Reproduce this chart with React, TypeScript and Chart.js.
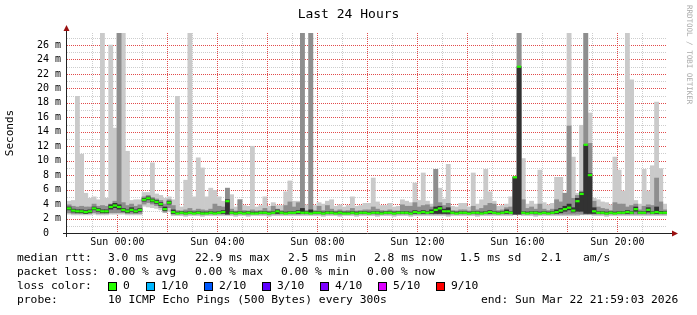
import React, { useEffect, useRef } from "react";
import { Chart, registerables } from "chart.js";

Chart.register(...registerables);

// time axis: hours relative to Sun 00:00; graph spans Sat 21:59:03 .. Sun 21:59:03
const START_HOUR = -2.0158;
const END_HOUR = 21.9842;
const STEP_HOURS = 1 / 6; // 10 minute bins

// median rtt (ms) per bin
const medianRtt = [
  3.4, 3.1, 3.0, 3.0, 2.9, 3.0, 3.4, 3.2, 3.0, 3.0, 3.6, 3.8,
  3.6, 3.2, 3.0, 3.2, 3.0, 3.2, 4.6, 4.8, 4.5, 4.3, 4.0, 3.3,
  4.2, 2.9, 2.7, 2.8, 2.7, 2.8, 2.7, 2.8, 2.7, 2.7, 2.8, 2.7,
  2.8, 2.9, 4.4, 2.8, 2.7, 2.8, 2.7, 2.8, 2.7, 2.7, 2.8, 2.8,
  2.7, 2.8, 3.0, 2.8, 2.7, 2.8, 2.8, 2.9, 2.8, 2.8, 2.7, 2.8,
  2.8, 2.7, 2.8, 2.8, 2.7, 2.8, 2.7, 2.7, 2.8, 2.7, 2.8, 2.8,
  2.7, 2.8, 2.8, 2.7, 2.8, 2.8, 2.7, 2.8, 2.8, 2.8, 2.7, 2.9,
  2.8, 2.9, 2.8, 2.9, 3.2, 3.4, 3.0, 3.0, 2.8, 2.7, 2.8, 2.8,
  2.7, 2.8, 2.8, 2.7, 2.8, 2.9, 2.8, 2.7, 2.8, 2.9, 2.8, 7.7,
  23.0, 2.8, 2.7, 2.8, 2.8, 2.7, 2.8, 2.7, 2.8, 2.9, 3.1, 3.3,
  3.5, 3.1, 4.4, 5.4, 12.2, 8.0, 3.0, 2.8, 2.8, 2.7, 2.8, 2.7,
  2.8, 2.8, 2.9, 2.8, 3.3, 2.8, 2.8, 3.2, 2.8, 2.9, 2.8, 2.8,
];

// outer smoke (min .. max ping)
const minRtt = [
  2.6, 2.5, 2.5, 2.5, 2.5, 2.5, 2.6, 2.5, 2.5, 2.5, 2.6, 2.6,
  2.6, 2.6, 2.5, 2.5, 2.5, 2.5, 3.7, 3.6, 3.5, 3.4, 3.2, 2.8,
  3.0, 2.4, 2.4, 2.4, 2.3, 2.4, 2.4, 2.4, 2.3, 2.4, 2.4, 2.4,
  2.4, 2.4, 2.4, 2.4, 2.3, 2.4, 2.4, 2.3, 2.4, 2.4, 2.4, 2.4,
  2.3, 2.4, 2.4, 2.4, 2.4, 2.4, 2.4, 2.4, 2.4, 2.4, 2.4, 2.4,
  2.4, 2.3, 2.4, 2.4, 2.4, 2.3, 2.4, 2.4, 2.4, 2.3, 2.4, 2.4,
  2.4, 2.4, 2.3, 2.4, 2.4, 2.4, 2.3, 2.4, 2.4, 2.4, 2.3, 2.4,
  2.4, 2.4, 2.4, 2.4, 2.4, 2.4, 2.4, 2.3, 2.4, 2.4, 2.4, 2.4,
  2.4, 2.4, 2.3, 2.4, 2.4, 2.4, 2.4, 2.4, 2.4, 2.4, 2.4, 2.5,
  2.5, 2.4, 2.4, 2.4, 2.3, 2.4, 2.4, 2.4, 2.4, 2.4, 2.4, 2.4,
  2.4, 2.4, 2.4, 2.5, 2.5, 2.5, 2.4, 2.4, 2.4, 2.3, 2.4, 2.4,
  2.4, 2.4, 2.4, 2.4, 2.4, 2.4, 2.4, 2.4, 2.4, 2.4, 2.4, 2.4,
];
const maxRtt = [
  4.4, 4.5, 18.9, 10.9, 5.5, 4.8, 5.0, 4.6, 28, 4.8, 26.0, 14.5,
  28, 28, 11.3, 4.5, 4.6, 4.6, 5.6, 5.6, 9.7, 5.4, 5.2, 4.8,
  5.0, 4.6, 18.9, 3.6, 7.3, 28, 5.0, 10.4, 9.0, 5.0, 6.2, 5.9,
  5.0, 4.4, 6.2, 5.3, 3.6, 4.6, 3.8, 3.7, 12.0, 3.6, 3.8, 5.0,
  3.7, 4.2, 3.8, 3.8, 5.7, 7.2, 4.4, 4.4, 28, 3.9, 28, 3.8,
  4.2, 4.0, 4.4, 4.6, 3.7, 3.9, 3.6, 3.8, 5.0, 3.7, 3.8, 4.1,
  4.1, 7.6, 4.3, 3.8, 3.8, 4.1, 3.6, 3.7, 4.6, 4.4, 4.2, 6.9,
  4.5, 8.3, 4.4, 4.0, 8.8, 6.2, 4.7, 9.5, 3.7, 3.6, 4.1, 4.1,
  3.6, 8.3, 4.0, 4.6, 8.8, 5.7, 4.4, 3.7, 3.8, 4.0, 5.0, 7.8,
  28, 10.3, 4.0, 4.4, 4.0, 8.7, 4.2, 3.9, 4.1, 7.7, 7.7, 5.5,
  28, 10.5, 5.5, 14.9, 28, 16.6, 4.8, 4.6, 4.3, 4.2, 3.9, 10.5,
  8.7, 5.8, 28, 21.2, 4.5, 4.0, 8.8, 5.8, 9.3, 18.1, 8.9, 4.0,
];

// middle smoke
const midLowRtt = [
  2.8, 2.7, 2.7, 2.7, 2.7, 2.7, 2.8, 2.7, 2.7, 2.7, 2.8, 2.8,
  2.8, 2.8, 2.7, 2.7, 2.7, 2.7, 4.0, 4.2, 4.0, 3.8, 3.5, 2.9,
  3.5, 2.6, 2.6, 2.6, 2.5, 2.6, 2.6, 2.6, 2.5, 2.6, 2.6, 2.6,
  2.6, 2.6, 2.6, 2.6, 2.5, 2.6, 2.6, 2.5, 2.6, 2.6, 2.6, 2.6,
  2.5, 2.6, 2.6, 2.6, 2.6, 2.6, 2.6, 2.6, 2.6, 2.6, 2.6, 2.6,
  2.6, 2.5, 2.6, 2.6, 2.6, 2.5, 2.6, 2.6, 2.6, 2.5, 2.6, 2.6,
  2.6, 2.6, 2.5, 2.6, 2.6, 2.6, 2.5, 2.6, 2.6, 2.6, 2.5, 2.6,
  2.6, 2.6, 2.6, 2.6, 2.6, 2.6, 2.6, 2.5, 2.6, 2.6, 2.6, 2.6,
  2.6, 2.6, 2.5, 2.6, 2.6, 2.6, 2.6, 2.6, 2.6, 2.6, 2.6, 2.6,
  2.6, 2.6, 2.6, 2.6, 2.5, 2.6, 2.6, 2.6, 2.6, 2.6, 2.6, 2.6,
  2.6, 2.6, 2.6, 2.6, 2.6, 2.6, 2.6, 2.6, 2.6, 2.5, 2.6, 2.6,
  2.6, 2.6, 2.6, 2.6, 2.6, 2.6, 2.6, 2.6, 2.6, 2.6, 2.6, 2.6,
];
const midHighRtt = [
  3.9, 3.7, 3.6, 3.7, 3.6, 3.6, 4.0, 3.7, 3.8, 3.7, 4.0, 4.4,
  28, 4.2, 3.8, 4.0, 3.7, 3.9, 5.0, 5.2, 4.9, 4.7, 4.5, 4.0,
  4.6, 3.8, 3.1, 3.05, 3.2, 3.4, 3.1, 3.3, 3.2, 3.1, 3.3, 4.0,
  3.7, 3.6, 6.2, 3.3, 3.05, 4.6, 3.1, 3.05, 3.2, 3.05, 3.1, 3.4,
  3.05, 3.7, 3.3, 3.1, 3.8, 4.3, 3.6, 4.2, 28, 3.1, 28, 3.1,
  3.7, 3.1, 3.8, 3.3, 3.05, 3.2, 3.05, 3.1, 3.4, 3.05, 3.1, 3.2,
  3.2, 3.6, 3.3, 3.1, 3.05, 3.2, 3.05, 3.05, 3.9, 3.7, 3.7, 4.2,
  3.6, 3.8, 3.9, 3.6, 8.8, 4.2, 3.8, 4.1, 3.1, 3.05, 3.2, 3.2,
  3.05, 3.7, 3.2, 3.4, 3.8, 4.1, 4.0, 3.1, 3.2, 3.5, 3.6, 7.8,
  28, 4.6, 3.4, 3.6, 3.3, 4.0, 3.3, 3.1, 3.3, 4.6, 4.3, 5.5,
  14.8, 4.8, 5.2, 5.8, 28, 12.4, 4.4, 3.6, 3.4, 3.3, 3.1, 4.2,
  4.0, 4.0, 3.6, 3.8, 4.0, 3.2, 3.7, 3.9, 3.8, 7.6, 4.3, 3.2,
];

// inner (darkest) smoke
const darkLowRtt = [
  3.2, 2.9, 2.8, 2.8, 2.7, 2.8, 3.2, 3.0, 2.8, 2.8, 3.3, 3.5,
  3.3, 3.0, 2.8, 3.0, 2.8, 3.0, 4.4, 4.6, 4.3, 4.1, 3.8, 3.1,
  4.0, 2.7, 2.7, 2.7, 2.7, 2.7, 2.7, 2.7, 2.7, 2.7, 2.7, 2.7,
  2.7, 2.7, 2.6, 2.7, 2.7, 2.7, 2.7, 2.7, 2.7, 2.7, 2.7, 2.7,
  2.7, 2.7, 2.7, 2.7, 2.7, 2.7, 2.7, 2.7, 2.7, 2.7, 2.7, 2.7,
  2.7, 2.7, 2.7, 2.7, 2.7, 2.7, 2.7, 2.7, 2.7, 2.7, 2.7, 2.7,
  2.7, 2.7, 2.7, 2.7, 2.7, 2.7, 2.7, 2.7, 2.7, 2.7, 2.7, 2.7,
  2.7, 2.7, 2.7, 2.7, 2.7, 2.7, 2.7, 2.7, 2.7, 2.7, 2.7, 2.7,
  2.7, 2.7, 2.7, 2.7, 2.7, 2.7, 2.7, 2.7, 2.7, 2.7, 2.7, 2.6,
  2.6, 2.7, 2.7, 2.7, 2.7, 2.7, 2.7, 2.7, 2.7, 2.7, 2.8, 3.0,
  3.2, 2.9, 3.0, 3.0, 2.7, 2.7, 2.7, 2.7, 2.7, 2.7, 2.7, 2.7,
  2.7, 2.7, 2.7, 2.7, 3.0, 2.7, 2.7, 2.9, 2.7, 2.7, 2.7, 2.7,
];
const darkHighRtt = [
  3.6, 3.3, 3.2, 3.2, 3.1, 3.2, 3.6, 3.4, 3.2, 3.2, 3.9, 4.1,
  3.9, 3.4, 3.2, 3.5, 3.2, 3.4, 4.8, 5.0, 4.7, 4.5, 4.2, 3.6,
  4.4, 3.2, 2.9, 2.95, 2.9, 2.95, 2.9, 2.95, 2.9, 2.9, 2.95, 2.9,
  2.95, 3.1, 4.6, 2.95, 2.9, 2.95, 2.9, 2.95, 2.9, 2.9, 2.95, 2.95,
  2.9, 2.95, 3.2, 2.95, 2.9, 2.95, 2.95, 3.1, 3.4, 2.95, 3.2, 2.95,
  2.95, 2.9, 2.95, 2.95, 2.9, 2.95, 2.9, 2.9, 2.95, 2.9, 2.95, 2.95,
  2.9, 2.95, 2.95, 2.9, 2.95, 2.95, 2.9, 2.95, 2.95, 2.95, 2.9, 3.1,
  2.95, 3.1, 2.95, 3.2, 3.6, 3.7, 3.3, 3.5, 2.95, 2.9, 2.95, 2.95,
  2.9, 2.95, 2.95, 2.9, 2.95, 3.1, 2.95, 2.9, 2.95, 3.2, 2.95, 7.7,
  23.0, 2.95, 2.9, 2.95, 2.95, 2.9, 2.95, 2.9, 2.95, 3.2, 3.4, 3.7,
  4.0, 3.5, 4.8, 5.6, 12.2, 8.2, 3.5, 2.95, 2.95, 2.9, 2.95, 2.9,
  2.95, 2.95, 3.1, 2.95, 3.6, 2.95, 2.95, 3.5, 2.95, 3.6, 3.0, 2.95,
];

const yMax = 27.66;
const yTickValues = [0, 1, 2, 3, 4, 5, 6, 7, 8, 9, 10, 11, 12, 13, 14, 15, 16, 17, 18, 19, 20, 21, 22, 23, 24, 25, 26, 27];
const xTickHours = [-1, 0, 1, 2, 3, 4, 5, 6, 7, 8, 9, 10, 11, 12, 13, 14, 15, 16, 17, 18, 19, 20, 21];
const xLabelHours = [0, 4, 8, 12, 16, 20];
const xLabelText = ["Sun 00:00", "Sun 04:00", "Sun 08:00", "Sun 12:00", "Sun 16:00", "Sun 20:00"];

const statsRow1 = [
  { x: 17, t: "median rtt:" },
  { x: 108, t: "3.0 ms avg" },
  { x: 195, t: "22.9 ms max" },
  { x: 288, t: "2.5 ms min" },
  { x: 374, t: "2.8 ms now" },
  { x: 460, t: "1.5 ms sd" },
  { x: 541, t: "2.1" },
  { x: 583, t: "am/s" },
];
const statsRow2 = [
  { x: 17, t: "packet loss:" },
  { x: 108, t: "0.00 % avg" },
  { x: 195, t: "0.00 % max" },
  { x: 281, t: "0.00 % min" },
  { x: 367, t: "0.00 % now" },
];
const lossColors = [
  { x: 108, c: "#26ff00", t: "0" },
  { x: 146, c: "#00b8ff", t: "1/10" },
  { x: 204, c: "#0059ff", t: "2/10" },
  { x: 262, c: "#5e00ff", t: "3/10" },
  { x: 320, c: "#7e00ff", t: "4/10" },
  { x: 378, c: "#dd00ff", t: "5/10" },
  { x: 436, c: "#ff0000", t: "9/10" },
];

const MONO = "'DejaVu Sans Mono', monospace";
const MAJOR = "rgb(225, 75, 75)";
const MINOR = "rgb(205, 205, 205)";

export default function App() {
  const ref = useRef<HTMLCanvasElement>(null);

  useEffect(() => {
    document.body.style.margin = "0";
    const times = medianRtt.map((_, i) => START_HOUR + (i + 0.5) * STEP_HOURS);
    const band = (lo: number[], hi: number[]) => times.map((t, i) => ({ x: t, y: [lo[i], hi[i]] }));

    // dotted RRDtool-style grid, positioned through the chart's own scales
    const gridPlugin = {
      id: "rrdGrid",
      beforeDatasetsDraw(chart: any) {
        const { ctx, chartArea } = chart;
        const xs = chart.scales.x;
        const ys = chart.scales.y;
        ctx.save();
        ctx.lineWidth = 1;
        ctx.setLineDash([1, 1]);
        const pass = (major: boolean) => {
          ctx.strokeStyle = major ? MAJOR : MINOR;
          ctx.beginPath();
          yTickValues.forEach((v) => {
            if (v === 0 || (v % 2 === 0) !== major) return;
            const py = Math.round(ys.getPixelForValue(v)) + 0.5;
            ctx.moveTo(chartArea.left, py);
            ctx.lineTo(chartArea.right, py);
          });
          xTickHours.forEach((h) => {
            if ((Math.abs(h % 2) === 0) !== major) return;
            const px = Math.round(xs.getPixelForValue(h)) + 0.5;
            ctx.moveTo(px, chartArea.top);
            ctx.lineTo(px, chartArea.bottom);
          });
          ctx.stroke();
        };
        pass(false);
        pass(true);
        ctx.restore();
      },
    };

    const axesPlugin = {
      id: "rrdAxes",
      afterDatasetsDraw(chart: any) {
        const { ctx, chartArea } = chart;
        const x0 = chartArea.left;
        const y0 = chart.scales.y.getPixelForValue(0);
        ctx.save();
        ctx.strokeStyle = "#222";
        ctx.lineWidth = 1;
        ctx.beginPath();
        ctx.moveTo(x0 - 4, Math.round(y0) + 0.5);
        ctx.lineTo(chartArea.right + 5, Math.round(y0) + 0.5);
        ctx.moveTo(Math.round(x0) - 0.5, y0 + 4);
        ctx.lineTo(Math.round(x0) - 0.5, chartArea.top - 3);
        ctx.stroke();
        ctx.fillStyle = "#9a1010";
        ctx.beginPath();
        const ax = chartArea.right + 5;
        const ay = Math.round(y0) + 0.5;
        ctx.moveTo(ax, ay - 3);
        ctx.lineTo(ax + 6, ay);
        ctx.lineTo(ax, ay + 3);
        ctx.closePath();
        ctx.fill();
        const bx = Math.round(x0) - 0.5;
        const by = chartArea.top - 2;
        ctx.beginPath();
        ctx.moveTo(bx - 3, by);
        ctx.lineTo(bx, by - 6);
        ctx.lineTo(bx + 3, by);
        ctx.closePath();
        ctx.fill();
        ctx.restore();
      },
    };

    const barCommon = {
      type: "bar" as const,
      grouped: false,
      barPercentage: 1,
      categoryPercentage: 1,
      borderWidth: 0,
      borderSkipped: false,
    };

    const chart = new Chart(ref.current as HTMLCanvasElement, {
      type: "bar",
      data: {
        datasets: [
          {
            type: "line",
            label: "median",
            data: times.map((t, i) => ({ x: t, y: medianRtt[i] })),
            showLine: false,
            pointStyle: "line",
            pointRadius: 2.1,
            pointBorderWidth: 2.2,
            pointBorderColor: "#26ff00",
            pointBackgroundColor: "#26ff00",
            order: 0,
          } as any,
          { ...barCommon, label: "inner", data: band(darkLowRtt, darkHighRtt), backgroundColor: "#323232", order: 1 } as any,
          { ...barCommon, label: "middle", data: band(midLowRtt, midHighRtt), backgroundColor: "#8e8e8e", order: 2 } as any,
          { ...barCommon, label: "outer", data: band(minRtt, maxRtt), backgroundColor: "#cacaca", order: 3 } as any,
        ],
      },
      options: {
        animation: false,
        responsive: false,
        maintainAspectRatio: false,
        layout: { padding: { left: 0, right: 30, top: 33, bottom: 0 } },
        plugins: { legend: { display: false }, tooltip: { enabled: false }, title: { display: false } },
        scales: {
          x: {
            type: "linear",
            min: START_HOUR,
            max: END_HOUR,
            offset: false,
            grid: { display: false, offset: false, drawTicks: false },
            border: { display: false },
            afterBuildTicks: (s: any) => {
              s.ticks = xTickHours.map((v) => ({ value: v }));
            },
            afterFit: (s: any) => {
              s.height = 82;
            },
            ticks: {
              autoSkip: false,
              maxRotation: 0,
              padding: 3,
              color: "#000",
              font: { family: MONO, size: 10 },
              callback: (v: any) => {
                const k = xLabelHours.indexOf(Number(v));
                return k >= 0 ? xLabelText[k] : "";
              },
            },
          },
          y: {
            type: "linear",
            min: 0,
            max: yMax,
            grid: { display: false, drawTicks: false },
            border: { display: false },
            afterBuildTicks: (s: any) => {
              s.ticks = yTickValues.map((v) => ({ value: v }));
            },
            afterFit: (s: any) => {
              s.width = 67;
            },
            title: {
              display: true,
              text: "Seconds",
              color: "#000",
              font: { family: MONO, size: 11 },
              padding: { top: 4, bottom: 0 },
            },
            ticks: {
              autoSkip: false,
              padding: 6,
              color: "#000",
              font: { family: MONO, size: 10 },
              callback: (v: any) => {
                const n = Number(v);
                if (n === 0) return "0  ";
                return n % 2 === 0 ? `${n} m` : "";
              },
            },
          },
        },
      },
      plugins: [gridPlugin, axesPlugin],
    } as any);
    return () => chart.destroy();
  }, []);

  const rowStyle = (cy: number): React.CSSProperties => ({
    position: "absolute",
    top: cy - 7,
    height: 14,
    lineHeight: "14px",
    fontFamily: MONO,
    fontSize: 11.3,
    color: "#000",
    whiteSpace: "pre",
  });

  return (
    <div style={{ position: "fixed", left: 0, top: 0, width: 697, height: 315, background: "#fff", overflow: "hidden" }}>
      <canvas ref={ref} width={697} height={315} style={{ position: "absolute", left: 0, top: 0, width: 697, height: 315 }} />
      <div
        style={{
          position: "absolute",
          left: 0,
          width: 697,
          top: 5,
          textAlign: "center",
          fontFamily: MONO,
          fontSize: 13,
          lineHeight: "18px",
          color: "#000",
        }}
      >
        Last 24 Hours
      </div>
      <div
        style={{
          position: "absolute",
          left: 685,
          top: 5,
          writingMode: "vertical-rl",
          fontFamily: MONO,
          fontSize: 7.5,
          lineHeight: "9px",
          color: "#aaaaaa",
          whiteSpace: "pre",
        }}
      >
        RRDTOOL / TOBI OETIKER
      </div>
      {statsRow1.map((s, i) => (
        <span key={"r1" + i} style={{ ...rowStyle(258), left: s.x }}>{s.t}</span>
      ))}
      {statsRow2.map((s, i) => (
        <span key={"r2" + i} style={{ ...rowStyle(272), left: s.x }}>{s.t}</span>
      ))}
      <span style={{ ...rowStyle(286), left: 17 }}>loss color:</span>
      {lossColors.map((l, i) => (
        <React.Fragment key={"lc" + i}>
          <span
            style={{
              position: "absolute",
              left: l.x,
              top: 282,
              width: 7,
              height: 7,
              background: l.c,
              border: "1px solid #000",
            }}
          />
          <span style={{ ...rowStyle(286), left: l.x + 15 }}>{l.t}</span>
        </React.Fragment>
      ))}
      <span style={{ ...rowStyle(300), left: 17 }}>probe:</span>
      <span style={{ ...rowStyle(300), left: 108 }}>10 ICMP Echo Pings (500 Bytes) every 300s</span>
      <span style={{ ...rowStyle(300), left: 481 }}>end: Sun Mar 22 21:59:03 2026</span>
    </div>
  );
}
